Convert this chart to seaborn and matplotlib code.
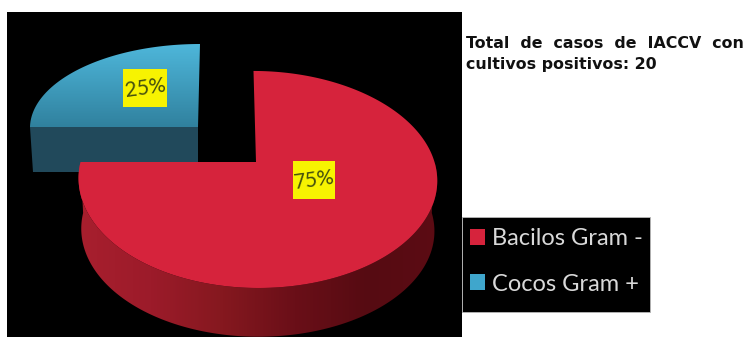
import numpy as np
import matplotlib
matplotlib.use("Agg")
import matplotlib.pyplot as plt
from matplotlib.colors import LinearSegmentedColormap
from matplotlib.patches import Patch, Rectangle, Polygon
import seaborn as sns

categories = ["Bacilos Gram -", "Cocos Gram +"]
percentages = [75, 25]
title_lines = ["Total  de  casos  de  IACCV  con", "cultivos positivos: 20"]

sns.set_theme(style="white")
label_font = "Lato"

palette = sns.color_palette(["#d6233c", "#3fa6cc"])

fig = plt.figure(figsize=(7.48, 3.37), dpi=100, facecolor="white")
ax = fig.add_axes([0, 0, 1, 1])
ax.axis("off")

ax.add_patch(Rectangle((7, 12), 455, 325, fc="black", ec="none", zorder=0))

# slice angles follow the data, clockwise from twelve o'clock
sweeps = np.array(percentages) / sum(percentages) * 360
starts = 90 - np.concatenate([[0], np.cumsum(sweeps)[:-1]])


def red_disc(deg, drop=0.0, scale=1.0):
    t = np.radians(deg)
    u, v = np.cos(t) * scale, np.sin(t) * scale
    w = 1 + 0.161 * v
    x = 256 + (177 * u + 1.5 * u ** 2) / w - 2.5 * v
    y = 162 - 105.7 * v / w + drop
    return x, y


def blue_disc(deg):
    t = np.radians(deg)
    return 198 + 168 * np.cos(t) + 2 * np.sin(t), 127 - 83 * np.sin(t)


def gradient_fill(poly_xy, colors, extent, vertical=False, zorder=2):
    cmap = LinearSegmentedColormap.from_list("shade", colors)
    ramp = np.linspace(0, 1, 256)
    ramp = ramp[:, None] if vertical else ramp[None, :]
    im = ax.imshow(ramp, cmap=cmap, extent=extent, aspect="auto", zorder=zorder, origin="upper")
    patch = Polygon(poly_xy, closed=True, transform=ax.transData, fc="none", ec="none")
    ax.add_patch(patch)
    im.set_clip_path(patch)


# blue slice: cut face, then gradient top
blue_deg = np.linspace(starts[1], starts[1] - sweeps[1], 120)
bx, by = blue_disc(blue_deg)
ax.add_patch(Polygon([(bx[0], by[0]), (198, 127), (198, 172), (33, 172)],
                     fc="#21495b", ec="none", zorder=1))
blue_top = np.column_stack([np.r_[bx, 198], np.r_[by, 127]])
gradient_fill(blue_top, ["#4fb8dc", "#2f7f9c"], (20, 210, 130, 42), vertical=True, zorder=2)

# red slice: shaded outer wall, then flat top
front = np.linspace(-180, 0, 200)
tx, ty = red_disc(front)
lx, ly = red_disc(front, drop=51, scale=0.985)
wall = np.column_stack([np.r_[tx, lx[::-1]], np.r_[ty, ly[::-1]]])
gradient_fill(wall, ["#a81f2e", "#9c1b2a", "#85181f", "#6a0f18", "#560b12", "#5c0c14"],
              (78, 440, 340, 150), zorder=3)

red_deg = np.linspace(starts[0], starts[0] - sweeps[0], 400)
rx, ry = red_disc(red_deg)
ax.fill(np.r_[rx, 256], np.r_[ry, 162], color=palette[0], lw=0, zorder=4)

# percentage tags on yellow boxes
tag_boxes = [(293, 161, 42, 38), (123, 69, 44, 38)]
for value, (x0, y0, w, h) in zip(percentages, tag_boxes):
    ax.add_patch(Rectangle((x0, y0), w, h, fc="#f7f301", ec="none", zorder=5))
    ax.text(x0 + w / 2, y0 + h / 2, f"{value}%", family=label_font, fontsize=15,
            color="#45500f", rotation=8, ha="center", va="center", zorder=6)

# note to the right of the chart
for line, y in zip(title_lines, (44, 64)):
    ax.text(466, y, line, family="DejaVu Sans", weight="bold", fontsize=11.4,
            color="#111111", ha="left", va="center")

# legend panel
ax.add_patch(Rectangle((462, 217), 188, 95, fc="black", ec="#b8b8b8", lw=0.6, zorder=1))
handles = [Patch(fc=c, ec="none") for c in palette]
leg = ax.legend(handles, categories, loc="upper left", bbox_to_anchor=(470 / 748, 1 - 228 / 337),
                bbox_transform=fig.transFigure, frameon=False, handlelength=0.62, handleheight=0.66,
                handletextpad=0.3, labelspacing=1.04, borderpad=0, borderaxespad=0,
                prop={"family": label_font, "size": 17})
for txt in leg.get_texts():
    txt.set_color("#d9d9d9")
leg.set_zorder(7)

ax.set_xlim(0, 748)
ax.set_ylim(337, 0)
fig.savefig("out.png", dpi=100, facecolor="white")
